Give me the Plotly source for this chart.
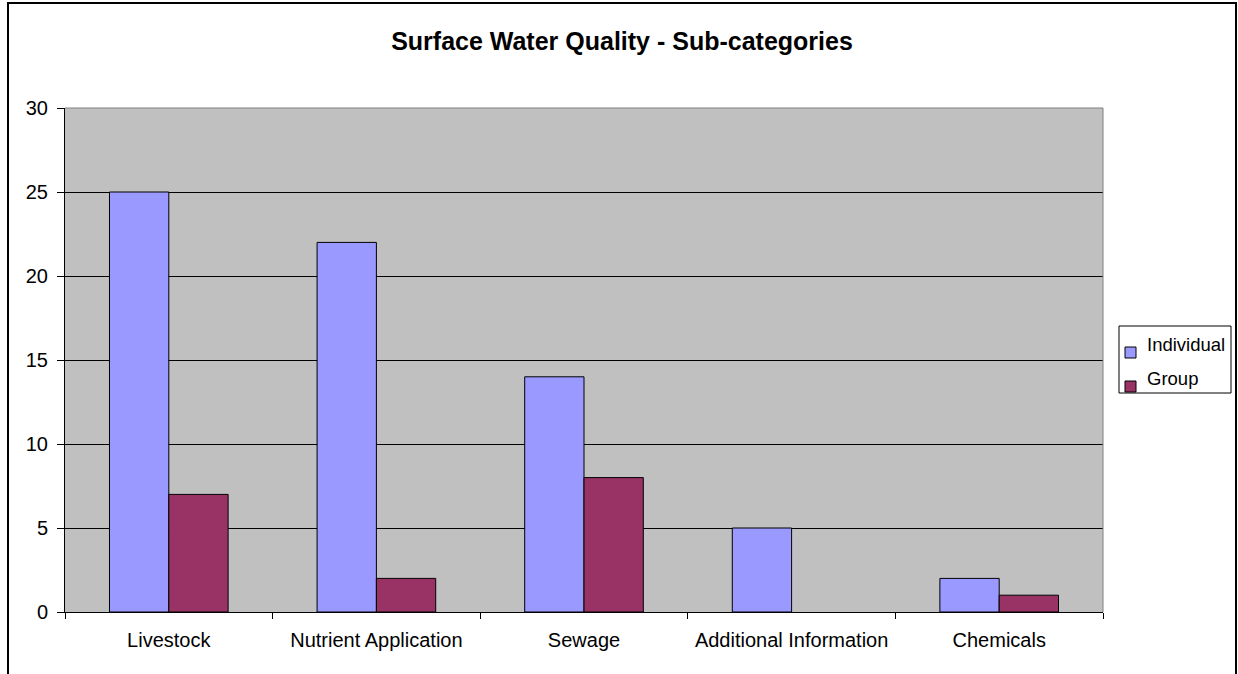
import plotly.graph_objects as go

categories = ["Livestock", "Nutrient Application", "Sewage", "Additional Information", "Chemicals"]
individual = [25, 22, 14, 5, 2]
group = [7, 2, 8, 0, 1]
series_names = ["Individual", "Group"]
series_colors = ["#9999FF", "#993366"]

W, H = 1238, 674
L, R, T, B = 65, 1103, 108, 612  # plot area edges in pixels


def px(x):
    return (x - L) / (R - L)


def py(y):
    return (B - y) / (B - T)


font = "Arial, Liberation Sans, sans-serif"

fig = go.Figure()
for name, vals, col in zip(series_names, [individual, group], series_colors):
    # no outline on empty bars so a zero value leaves no stroke on the axis
    widths = [1 if v else 0 for v in vals]
    fig.add_trace(go.Bar(name=name, x=categories, y=vals, showlegend=False,
                         marker=dict(color=col, line=dict(color="black", width=widths))))

# chart frame and plot-area border (top and right edges in grey)
shapes = [
    dict(type="rect", xref="paper", yref="paper",
         x0=px(8), x1=px(1236), y0=py(700), y1=py(3),
         line=dict(color="black", width=2)),
    dict(type="path", xref="paper", yref="paper", layer="above",
         path="M 0 1 L 1 1 L 1 0",
         line=dict(color="#808080", width=1)),
    # legend box
    dict(type="rect", xref="paper", yref="paper",
         x0=px(1119), x1=px(1231), y0=py(393), y1=py(326),
         line=dict(color="black", width=1), fillcolor="white"),
]
annotations = []
legend_rows = [344, 378]
for name, col, yc in zip(series_names, series_colors, legend_rows):
    shapes.append(dict(type="rect", xref="paper", yref="paper",
                       x0=px(1125), x1=px(1136), y0=py(yc + 14), y1=py(yc + 3),
                       line=dict(color="black", width=1), fillcolor=col))
    annotations.append(dict(xref="paper", yref="paper", x=px(1145), y=py(yc),
                            xanchor="left", yanchor="middle", showarrow=False,
                            text=name, font=dict(family=font, size=18.5, color="black")))

fig.update_layout(
    width=W, height=H,
    margin=dict(l=L, r=W - R, t=T, b=H - B, autoexpand=False),
    paper_bgcolor="white",
    plot_bgcolor="#C0C0C0",
    barmode="group",
    bargap=1.5 / 3.5,
    bargroupgap=0,
    showlegend=False,
    font=dict(family=font, size=20, color="black"),
    title=dict(text="<b>Surface Water Quality - Sub-categories</b>",
               x=622 / W, xref="container", xanchor="center",
               y=1 - 41 / H, yref="container", yanchor="middle",
               font=dict(family=font, size=25, color="black")),
    xaxis=dict(showgrid=False, showline=True, linecolor="black", linewidth=1,
               ticks="outside", tickson="boundaries", ticklen=6, tickcolor="black",
               ticklabelstandoff=10, tickfont=dict(size=20)),
    yaxis=dict(range=[0, 30], dtick=5, showgrid=True, gridcolor="black", gridwidth=1,
               showline=True, linecolor="black", linewidth=1,
               ticks="outside", ticklen=7, tickcolor="black",
               ticklabelstandoff=5, tickfont=dict(size=20), zeroline=False),
    shapes=shapes,
    annotations=annotations,
)

fig.write_html("out.html")
